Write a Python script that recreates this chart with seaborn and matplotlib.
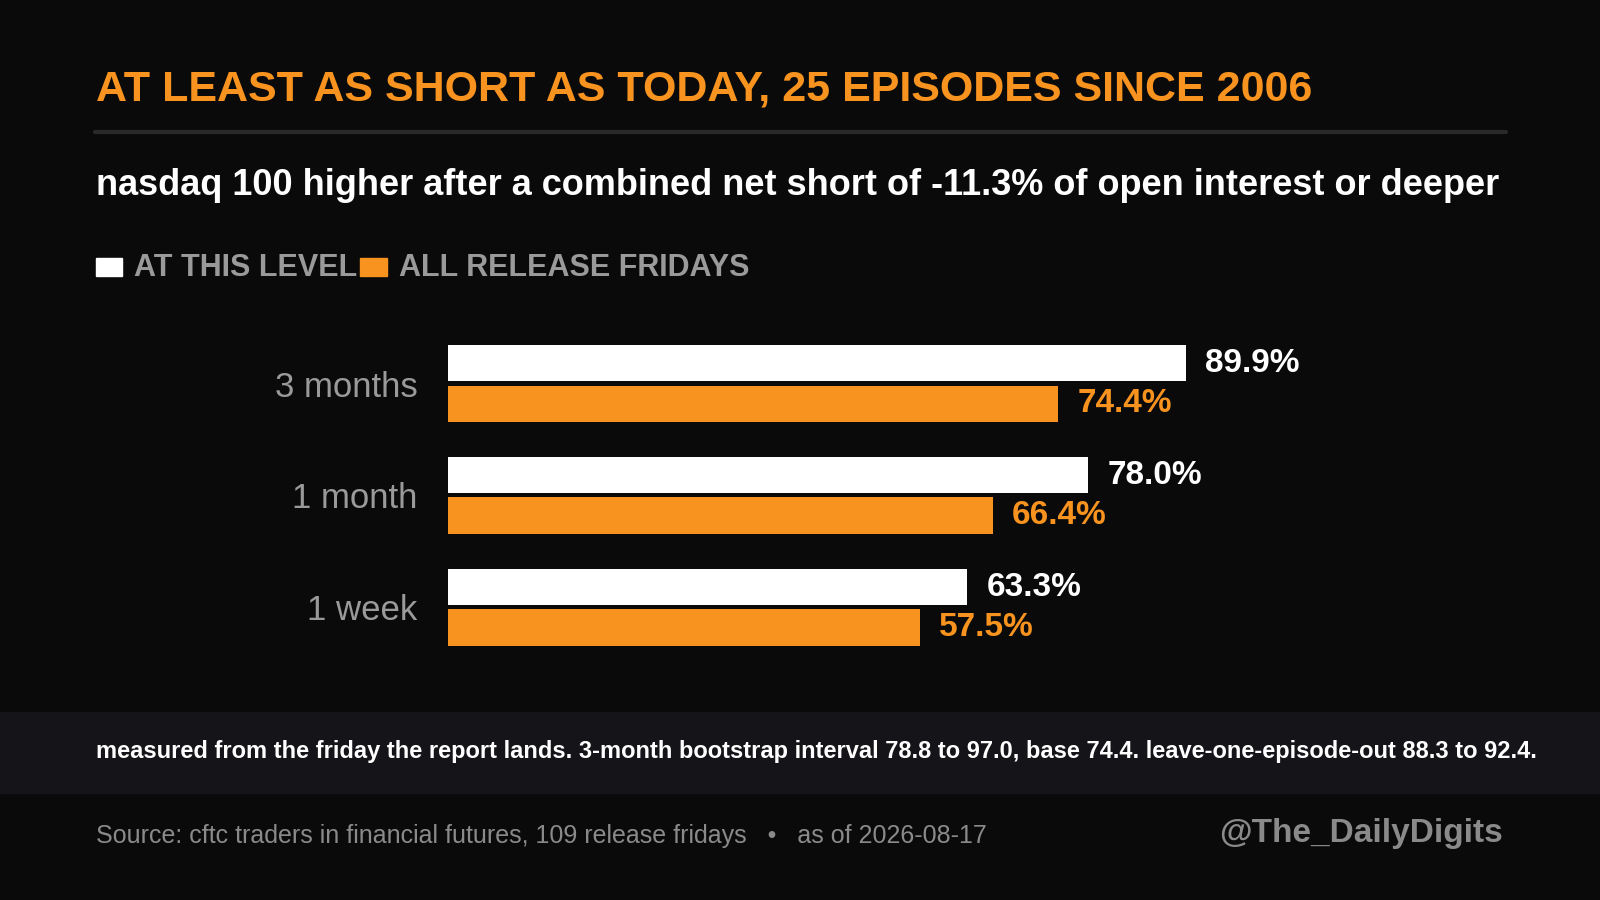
import pandas as pd
import seaborn as sns
import matplotlib.pyplot as plt
from matplotlib.patches import Rectangle

horizons = ['3 months', '1 month', '1 week']
at_this_level = [89.9, 78.0, 63.3]
all_fridays = [74.4, 66.4, 57.5]
series_names = ['AT THIS LEVEL', 'ALL RELEASE FRIDAYS']

BG = '#0a0a0a'
ORANGE = '#f7931e'
GRAY = '#9a9a9a'

sns.set_theme(style='dark')
plt.rcParams['font.family'] = ['Liberation Sans', 'DejaVu Sans']

df = pd.DataFrame({
    'horizon': horizons * 2,
    'value': at_this_level + all_fridays,
    'series': [series_names[0]] * 3 + [series_names[1]] * 3,
})

W, H = 1568, 882
fig = plt.figure(figsize=(16, 9), dpi=100, facecolor=BG)

def fx(px):
    return px / W

def fy(py):
    return 1 - py / H

ax = fig.add_axes([fx(439), fy(650), fx(1243) - fx(439), fy(321) - fy(650)])
ax.set_facecolor(BG)
sns.barplot(data=df, y='horizon', x='value', hue='series', order=horizons,
            hue_order=series_names, palette=['#ffffff', ORANGE],
            width=0.72, gap=0.1, dodge=True, ax=ax, legend=False,
            saturation=1, linewidth=0)
ax.set_xlim(0, 100)
ax.set_xlabel('')
ax.set_ylabel('')
ax.set_xticks([])
ax.tick_params(axis='y', length=0, pad=22, labelsize=25, labelcolor=GRAY)
for s in ax.spines.values():
    s.set_visible(False)
ax.grid(False)

for container, color in zip(ax.containers, ['#ffffff', ORANGE]):
    ax.bar_label(container, labels=[f'{v:.1f}%' for v in container.datavalues],
                 padding=14, color=color, fontsize=24, fontweight='bold')

# header
fig.text(fx(94), fy(88), 'AT LEAST AS SHORT AS TODAY, 25 EPISODES SINCE 2006',
         color=ORANGE, fontsize=31, fontweight='bold', va='center')
fig.add_artist(plt.Line2D([fx(93), fx(1476)], [fy(129), fy(129)], color='#2a2a2a', lw=3))
fig.text(fx(94), fy(182), 'nasdaq 100 higher after a combined net short of -11.3% of open interest or deeper',
         color='white', fontsize=26, fontweight='bold', va='center')

# legend
fig.add_artist(Rectangle((fx(94), fy(270)), fx(26), fy(253) - fy(270),
                         transform=fig.transFigure, color='white'))
fig.text(fx(131), fy(263), 'AT THIS LEVEL', color=GRAY, fontsize=22, fontweight='bold', va='center')
fig.add_artist(Rectangle((fx(353), fy(270)), fx(26), fy(253) - fy(270),
                         transform=fig.transFigure, color=ORANGE))
fig.text(fx(391), fy(263), 'ALL RELEASE FRIDAYS', color=GRAY, fontsize=22, fontweight='bold', va='center')

# footnote band
fig.add_artist(Rectangle((0, fy(777)), 1, fy(698) - fy(777),
                         transform=fig.transFigure, color='#141419'))
fig.text(fx(94), fy(736), 'measured from the friday the report lands. 3-month bootstrap interval 78.8 to 97.0, '
         'base 74.4. leave-one-episode-out 88.3 to 92.4.',
         color='white', fontsize=17, fontweight='bold', va='center')

fig.text(fx(94), fy(819), 'Source: cftc traders in financial futures, 109 release fridays   \u2022   as of 2026-08-17',
         color='#8a8a8a', fontsize=18, va='center')
fig.text(fx(1473), fy(817), '@The_DailyDigits', color='#8a8a8a', fontsize=24,
         fontweight='bold', va='center', ha='right')

fig.savefig('out.png', dpi=100, facecolor=BG)
